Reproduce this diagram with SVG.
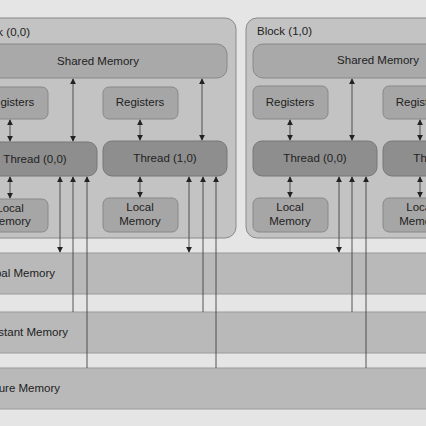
<svg xmlns="http://www.w3.org/2000/svg" width="426" height="426" viewBox="0 0 426 426">
<defs>
<style>
text{font-family:"Liberation Sans",Arial,sans-serif;font-size:11.5px;fill:#222}
.blk{fill:#c3c3c3;stroke:#8a8a8a;stroke-width:1}
.sh{fill:#a9a9a9;stroke:#888;stroke-width:1}
.reg{fill:#a6a6a6;stroke:#888;stroke-width:1}
.thr{fill:#8e8e8e;stroke:#777;stroke-width:1}
.band{fill:#b9b9b9;stroke:#9a9a9a;stroke-width:1}
.ln{stroke:#444;stroke-width:0.9;fill:none}
</style>
<marker id="ah" viewBox="0 0 8 8" refX="7" refY="4" markerWidth="6" markerHeight="6" orient="auto-start-reverse" markerUnits="userSpaceOnUse">
<path d="M0,0 L8,4 L0,8 z" fill="#222"/>
</marker>
</defs>
<rect x="0" y="0" width="426" height="426" fill="#e5e5e5"/>

<g id="global-memory"><rect class="band" x="-40" y="253" width="520" height="41"/><text x="55" y="277" text-anchor="end">Global Memory</text></g>
<g id="constant-memory"><rect class="band" x="-40" y="312" width="520" height="41"/><text x="68" y="336" text-anchor="end">Constant Memory</text></g>
<g id="texture-memory"><rect class="band" x="-40" y="368" width="520" height="41"/><text x="60" y="392" text-anchor="end">Texture Memory</text></g>

<g id="block00">
<rect class="blk" x="-34" y="18" width="270" height="220" rx="11"/>
<text x="-25" y="36">Block (0,0)</text>
<rect class="sh" x="-27" y="44" width="254" height="34" rx="10"/>
<text x="98" y="65" text-anchor="middle">Shared Memory</text>
</g>
<g id="b0-registers0"><rect class="reg" x="-27" y="87" width="75" height="32" rx="6"/><text x="10" y="106" text-anchor="middle">Registers</text></g>
<g id="b0-registers1"><rect class="reg" x="103" y="87" width="75" height="32" rx="6"/><text x="140" y="106" text-anchor="middle">Registers</text></g>
<g id="b0-thread0"><rect class="thr" x="-27" y="142" width="124" height="34" rx="9"/><text x="35" y="163" text-anchor="middle">Thread (0,0)</text></g>
<g id="b0-thread1"><rect class="thr" x="103" y="141" width="124" height="35" rx="9"/><text x="165" y="162" text-anchor="middle">Thread (1,0)</text></g>
<g id="b0-local0"><rect class="reg" x="-27" y="199" width="75" height="33" rx="6"/><text x="10" y="212" text-anchor="middle">Local</text><text x="10" y="225" text-anchor="middle">Memory</text></g>
<g id="b0-local1"><rect class="reg" x="103" y="198" width="75" height="34" rx="6"/><text x="140" y="211" text-anchor="middle">Local</text><text x="140" y="225" text-anchor="middle">Memory</text></g>

<g id="block10">
<rect class="blk" x="246" y="18" width="270" height="220" rx="11"/>
<text x="257" y="35">Block (1,0)</text>
<rect class="sh" x="253" y="44" width="254" height="34" rx="10"/>
<text x="378" y="64" text-anchor="middle">Shared Memory</text>
</g>
<g id="b1-registers0"><rect class="reg" x="253" y="86" width="75" height="33" rx="6"/><text x="290" y="106" text-anchor="middle">Registers</text></g>
<g id="b1-registers1"><rect class="reg" x="383" y="86" width="75" height="33" rx="6"/><text x="420" y="106" text-anchor="middle">Registers</text></g>
<g id="b1-thread0"><rect class="thr" x="253" y="141" width="124" height="35" rx="9"/><text x="315" y="162" text-anchor="middle">Thread (0,0)</text></g>
<g id="b1-thread1"><rect class="thr" x="383" y="141" width="124" height="35" rx="9"/><text x="445" y="162" text-anchor="middle">Thread (1,0)</text></g>
<g id="b1-local0"><rect class="reg" x="253" y="198" width="75" height="34" rx="6"/><text x="290" y="211" text-anchor="middle">Local</text><text x="290" y="225" text-anchor="middle">Memory</text></g>
<g id="b1-local1"><rect class="reg" x="383" y="198" width="75" height="34" rx="6"/><text x="420" y="211" text-anchor="middle">Local</text><text x="420" y="225" text-anchor="middle">Memory</text></g>

<g id="connectors">
<!-- registers <-> thread -->
<line class="ln" x1="10" y1="120" x2="10" y2="141" marker-start="url(#ah)" marker-end="url(#ah)"/>
<line class="ln" x1="140" y1="120" x2="140" y2="140" marker-start="url(#ah)" marker-end="url(#ah)"/>
<line class="ln" x1="290" y1="120" x2="290" y2="140" marker-start="url(#ah)" marker-end="url(#ah)"/>
<line class="ln" x1="420" y1="120" x2="420" y2="140" marker-start="url(#ah)" marker-end="url(#ah)"/>
<!-- thread <-> local -->
<line class="ln" x1="10" y1="177" x2="10" y2="198" marker-start="url(#ah)" marker-end="url(#ah)"/>
<line class="ln" x1="140" y1="177" x2="140" y2="197" marker-start="url(#ah)" marker-end="url(#ah)"/>
<line class="ln" x1="290" y1="177" x2="290" y2="197" marker-start="url(#ah)" marker-end="url(#ah)"/>
<line class="ln" x1="420" y1="177" x2="420" y2="197" marker-start="url(#ah)" marker-end="url(#ah)"/>
<!-- shared <-> thread -->
<line class="ln" x1="73" y1="79" x2="73" y2="141" marker-start="url(#ah)" marker-end="url(#ah)"/>
<line class="ln" x1="202" y1="79" x2="202" y2="140" marker-start="url(#ah)" marker-end="url(#ah)"/>
<line class="ln" x1="352" y1="79" x2="352" y2="140" marker-start="url(#ah)" marker-end="url(#ah)"/>
<!-- thread <-> global -->
<line class="ln" x1="60" y1="177" x2="60" y2="252" marker-start="url(#ah)" marker-end="url(#ah)"/>
<line class="ln" x1="189" y1="177" x2="189" y2="252" marker-start="url(#ah)" marker-end="url(#ah)"/>
<line class="ln" x1="339" y1="177" x2="339" y2="252" marker-start="url(#ah)" marker-end="url(#ah)"/>
<!-- thread -> constant -->
<line class="ln" x1="73" y1="177" x2="73" y2="312" marker-start="url(#ah)"/>
<line class="ln" x1="203" y1="177" x2="203" y2="312" marker-start="url(#ah)"/>
<line class="ln" x1="352" y1="177" x2="352" y2="312" marker-start="url(#ah)"/>
<!-- thread -> texture -->
<line class="ln" x1="87" y1="177" x2="87" y2="368" marker-start="url(#ah)"/>
<line class="ln" x1="216" y1="177" x2="216" y2="368" marker-start="url(#ah)"/>
<line class="ln" x1="366" y1="177" x2="366" y2="368" marker-start="url(#ah)"/>
</g>
</svg>
